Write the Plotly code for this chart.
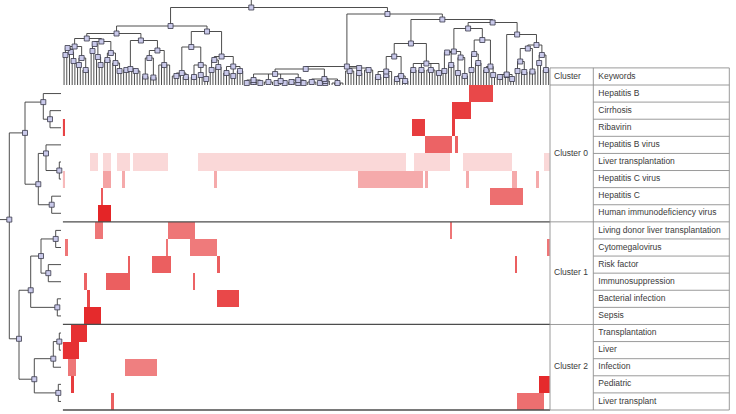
import numpy as np
import plotly.graph_objects as go

W, H = 736, 414
FONT = "Liberation Sans, Arial, Helvetica, sans-serif"

keywords = ["Hepatitis B", "Cirrhosis", "Ribavirin", "Hepatitis B virus",
            "Liver transplantation", "Hepatitis C virus", "Hepatitis C",
            "Human immunodeficiency virus",
            "Living donor liver transplantation", "Cytomegalovirus", "Risk factor",
            "Immunosuppression", "Bacterial infection", "Sepsis",
            "Transplantation", "Liver", "Infection", "Pediatric", "Liver transplant"]
cluster_names = ["Cluster 0", "Cluster 1", "Cluster 2"]
cluster_sizes = [8, 6, 5]
n_cols = 180

# coloured blocks per keyword row: first column, column after last, intensity
hit_start = [[150], [144], [0, 129, 144], [134, 145],
             [10, 15, 20, 26, 50, 130, 148, 178],
             [0, 15, 22, 56, 109, 134, 149, 166, 175],
             [14, 158], [13],
             [12, 39, 143], [1, 38, 47, 179], [24, 33, 57, 167], [8, 16, 48], [9, 57], [8],
             [3], [0], [2, 23], [3, 176], [18, 168]]
hit_stop = [[159], [151], [1, 134, 145], [144, 146],
            [13, 18, 25, 39, 127, 143, 166, 180],
            [1, 18, 23, 57, 133, 135, 150, 168, 176],
            [15, 170], [18],
            [15, 49, 144], [2, 39, 57, 180], [25, 40, 58, 168], [9, 25, 49], [10, 65], [14],
            [9], [6], [5, 35], [4, 180], [19, 178]]
hit_level = [[0.80], [0.85], [0.82, 0.85, 0.85], [0.68, 0.68],
             [0.17] * 8,
             [0.30, 0.40, 0.37, 0.37, 0.37, 0.37, 0.37, 0.37, 0.37],
             [0.72, 0.63], [0.95],
             [0.60, 0.60, 0.60], [0.60, 0.60, 0.58, 0.60], [0.70, 0.70, 0.70, 0.70],
             [0.68, 0.70, 0.68], [0.80, 0.80], [0.93],
             [0.90], [0.90], [0.60, 0.56], [0.85, 0.93], [0.70, 0.63]]

# column dendrogram: [height, child, child, ...], 0 = leaf
A1a = [46.5,
       [38.5, [37, [30, 0, 0], [33, 0, [24, 0, 0]]],
              [27, [20, 0, 0], [15, 0, 0, 0]]],
       [43.5, [41, [34, 0, 0], [28, 0, [20, 0, 0]]],
              [32, [25, 0, 0, 0], [22, 0, 0, [14, 0, 0]]]]]
A1b = [44.5,
       [16, [15, 0, 0, 0], [14, 0, 0, 0, 0]],
       [34.5, [27, [8.5, 0, 0, 0], [7.5, 0, 0, 0]],
              [20, 0, 0, 0, 0, 0]]]
A2a = [38, [12, [9, 0, 0, 0, 0], [8, 0, 0, 0]],
           [20, [8, 0, 0, 0], [10, 0, 0], [6, 0, 0]]]
A2b = [28.5, [25, [15, 0, 0], [18, 0, 0, 0]],
             [18.5, [12, 0, 0, 0], [9, 0, 0], [14, 0, 0, 0]]]
L1 = [11, [5, [2, 0, 0], [3, 0, 0, 0], [2, 0, 0]], [3, 0, 0, 0, 0],
          [4, [2, 0, 0], 0, [2, 0, 0]], [5, [3, 0, 0, 0], [2, 0, 0], [2, 0, 0]]]
L2 = [6, [3, 0, 0, 0, 0], [4, [2, 0, 0], [2, 0, 0], 0], [2, 0, 0, 0, 0, 0]]
L3 = [17, [14, 0, 0, 0, 0], [12, 0, 0, 0], [15, 0, 0, 0, 0]]
Br1 = [41.5,
       [28.5, [13.5, [8, 0, 0, 0], [10, 0, 0, 0], 0], [9, [6, 0, 0, 0], [4, 0, 0, 0]]],
       [21.5, [15, 0, 0, 0], [15, 0, 0, 0], [15, 0, 0, 0, 0], [12, 0, 0]]]
Br2a = [56.5,
        [33.5, [32.5, [14, 0, 0], [20, 0, 0, 0]], [27.5, [12, 0, 0], [9, 0, 0, 0]]],
        [45, [31, [15, 0, 0], [22, 0, 0, 0]], [18.5, [15, 0, 0, 0], [10, 0, 0]]]]
Br2b = [50.5,
        [10.5, [8, 0, 0, 0], [10, 0, 0], [6, 0, 0]],
        [40, [36.5, [23.5, [14, 0, 0], [13, 0, 0, 0]], [13.5, 0, 0, 0]],
             [30, [22, 0, 0], [15, 0, 0, 0]]]]
col_tree = [77.5, [59, [51.5, A1a, A1b], [53.5, A2a, A2b]],
                  [71, [18.5, [16, L1, L2], L3], [65.5, Br1, [62.5, Br2a, Br2b]]]]

# keyword (row) dendrogram
row_tree = [51.7,
            [36, [17.7, 0, [11, 0, 0]], [22.7, [15, 0, [1.7, 0, 0]], [9.3, 0, 0]]],
            [42, [30.3, [20, [5.3, 0, 0], [12.7, 0, 0]], [3.7, 0, 0]],
                 [26.7, [7.7, [1.7, 0, 0], 0], [2.7, 0, 0]]]]

# page geometry (pixels)
HM_LEFT, HM_RIGHT, HM_TOP, HM_BOTTOM = 62.7, 550, 85, 410
LEAF_X = 61
TABLE_RIGHT, TABLE_DIV = 729.3, 43.3
PAD = 3


def count_leaves(node):
    return 1 if node == 0 else sum(count_leaves(c) for c in node[1:])


def layout_tree(node, leaf_pos, counter, segs, boxes):
    # returns (position, height, leaf count); a node sits nearer its smaller branch
    if node == 0:
        p = leaf_pos[counter[0]]
        counter[0] += 1
        return p, 0.0, 1
    h = node[0]
    kids = [layout_tree(c, leaf_pos, counter, segs, boxes) for c in node[1:]]
    xs = [k[0] for k in kids]
    n = sum(k[2] for k in kids)
    for kx, kh, _ in kids:
        segs.append((kx, kh, kx, h))
    segs.append((min(xs), h, max(xs), h))
    w = [n - k[2] for k in kids]
    x = sum(k[0] * wi for k, wi in zip(kids, w)) / sum(w)
    boxes.append((x, h))
    return x, h, n


def tree_traces(tree, leaf_pos, stub, flip, xa, ya):
    segs, boxes = [], []
    rx, rh, _ = layout_tree(tree, leaf_pos, [0], segs, boxes)
    segs.append((rx, rh, rx, stub))
    lx, ly = [], []
    for a, ha, b, hb in segs:
        if flip:
            lx += [ha, hb, None]
            ly += [a, b, None]
        else:
            lx += [a, b, None]
            ly += [ha, hb, None]
    bx = [h if flip else p for p, h in boxes]
    by = [p if flip else h for p, h in boxes]
    line = go.Scatter(x=lx, y=ly, mode="lines", xaxis=xa, yaxis=ya,
                      line=dict(color="#3a3a3a", width=0.9), hoverinfo="skip")
    mark = go.Scatter(x=bx, y=by, mode="markers", xaxis=xa, yaxis=ya, cliponaxis=False,
                      marker=dict(symbol="square", size=5, color="#c9c9ea",
                                  line=dict(color="#3a3a4a", width=0.8)),
                      hoverinfo="skip")
    return [line, mark]


n_rows = len(keywords)
z = np.zeros((n_rows, n_cols))
for r in range(n_rows):
    for s, e, v in zip(hit_start[r], hit_stop[r], hit_level[r]):
        z[r, s:e] = v

fig = go.Figure()
fig.add_trace(go.Heatmap(z=z, x=np.arange(n_cols), y=np.arange(n_rows),
                         colorscale=[[0, "#ffffff"], [1, "#e31a1c"]], zmin=0, zmax=1,
                         showscale=False, hoverinfo="skip", xaxis="x", yaxis="y"))

# cluster separators across the heatmap
bounds = np.cumsum(cluster_sizes) - 0.5
sx, sy = [], []
for b in bounds:
    sx += [-0.5, n_cols - 0.5, None]
    sy += [b, b, None]
fig.add_trace(go.Scatter(x=sx, y=sy, mode="lines", xaxis="x", yaxis="y",
                         line=dict(color="#4d4d4d", width=1.3), hoverinfo="skip"))

# dendrograms
n_leaf = count_leaves(col_tree)
col_pos = [-0.5 + (i + 0.5) * n_cols / n_leaf for i in range(n_leaf)]
for t in tree_traces(col_tree, col_pos, HM_TOP, False, "x", "y2"):
    fig.add_trace(t)
for t in tree_traces(row_tree, list(range(n_rows)), LEAF_X, True, "x2", "y"):
    fig.add_trace(t)

# table grid
tw = TABLE_RIGHT - HM_RIGHT
gx, gy = [], []
top, bot = -1.5, n_rows - 0.5
for seg in [(0, top, tw, top), (0, bot, tw, bot), (0, top, 0, bot), (tw, top, tw, bot),
            (TABLE_DIV, top, TABLE_DIV, bot), (0, -0.5, tw, -0.5)]:
    gx += [seg[0], seg[2], None]
    gy += [seg[1], seg[3], None]
for r in range(n_rows - 1):
    b = r + 0.5
    x0 = 0 if b in bounds else TABLE_DIV
    gx += [x0, tw, None]
    gy += [b, b, None]
fig.add_trace(go.Scatter(x=gx, y=gy, mode="lines", xaxis="x3", yaxis="y",
                         line=dict(color="#8e8e8e", width=0.9), hoverinfo="skip"))

starts = np.concatenate([[0], np.cumsum(cluster_sizes)[:-1]])
cl_y = [s + (n - 1) / 2 for s, n in zip(starts, cluster_sizes)]
tx = [4, TABLE_DIV + 5] + [4] * len(cluster_names) + [TABLE_DIV + 5] * n_rows
ty = [-1, -1] + cl_y + list(range(n_rows))
tt = ["Cluster", "Keywords"] + cluster_names + keywords
fig.add_trace(go.Scatter(x=tx, y=ty, text=tt, mode="text", textposition="middle right",
                         xaxis="x3", yaxis="y", cliponaxis=False,
                         textfont=dict(family=FONT, size=8.5, color="#3a3a3a"),
                         hoverinfo="skip"))

ROW_PX = (HM_BOTTOM - HM_TOP) / n_rows
hidden = dict(showgrid=False, zeroline=False, showticklabels=False, ticks="",
              showline=False, fixedrange=True)
fig.update_layout(
    width=W, height=H, margin=dict(l=0, r=0, t=0, b=0),
    paper_bgcolor="white", plot_bgcolor="rgba(0,0,0,0)", showlegend=False,
    xaxis=dict(domain=[HM_LEFT / W, HM_RIGHT / W], range=[-0.5, n_cols - 0.5],
               anchor="y", **hidden),
    yaxis=dict(domain=[1 - (HM_BOTTOM + PAD) / H, 1 - (HM_TOP - ROW_PX - PAD) / H],
               range=[n_rows - 0.5 + PAD / ROW_PX, -1.5 - PAD / ROW_PX],
               anchor="x", **hidden),
    yaxis2=dict(domain=[1 - HM_TOP / H, 1], range=[0, HM_TOP], anchor="x", **hidden),
    xaxis2=dict(domain=[0, HM_LEFT / W], range=[LEAF_X, LEAF_X - HM_LEFT],
                anchor="y", **hidden),
    xaxis3=dict(domain=[(HM_RIGHT - PAD) / W, (TABLE_RIGHT + PAD) / W],
                range=[-PAD, tw + PAD], anchor="y", **hidden),
)

fig.write_html("out.html", config={"displayModeBar": False},
               post_script="document.body.style.margin='0';")
